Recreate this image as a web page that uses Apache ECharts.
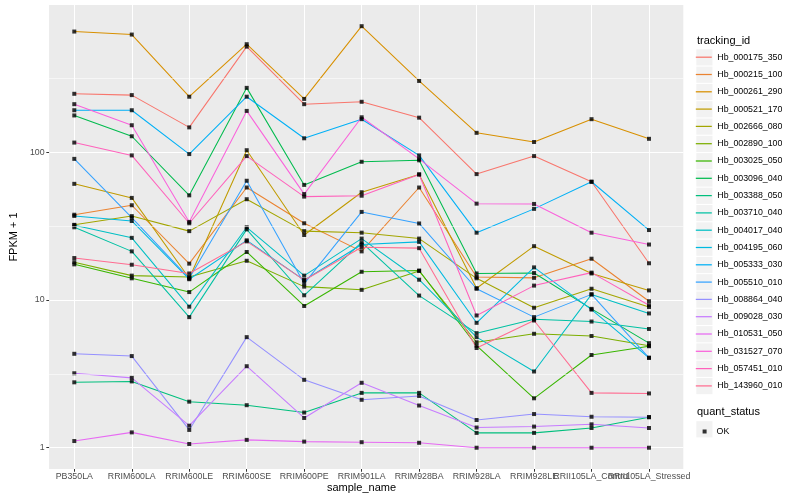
<!DOCTYPE html>
<html><head><meta charset="utf-8">
<script src="https://cdn.jsdelivr.net/npm/echarts@6/dist/echarts.min.js"></script>
<style>html,body{margin:0;padding:0;background:#fff}#c{width:800px;height:500px}</style>
</head><body><div id="c"></div>
<script>
const categories = ['PB350LA','RRIM600LA','RRIM600LE','RRIM600SE','RRIM600PE','RRIM901LA','RRIM928BA','RRIM928LA','RRIM928LE','RRII105LA_Control','RRII105LA_Stressed'];
const minorBreaks = [3.162, 31.62, 316.2];
const trackingIds = ['Hb_000175_350','Hb_000215_100','Hb_000261_290','Hb_000521_170','Hb_002666_080','Hb_002890_100','Hb_003025_050','Hb_003096_040','Hb_003388_050','Hb_003710_040','Hb_004017_040','Hb_004195_060','Hb_005333_030','Hb_005510_010','Hb_008864_040','Hb_009028_030','Hb_010531_050','Hb_031527_070','Hb_057451_010','Hb_143960_010'];
const palette = ['#F8766D','#EA8331','#D89000','#C09B00','#A3A500','#7CAE00','#39B600','#00BB4E','#00BF7D','#00C1A3','#00BFC4','#00BAE0','#00B0F6','#35A2FF','#9590FF','#C77CFF','#E76BF3','#FA62DB','#FF62BC','#FF6C91'];

// FPKM + 1 per sample
const Hb_000175_350 = [248, 243, 147, 517, 211, 219, 171, 71, 94, 63, 17.7];
const Hb_000215_100 = [37.7, 43.7, 17.6, 57.6, 33, 21.3, 57.6, 14.3, 14.1, 19.0, 9.8];
const Hb_000261_290 = [654, 624, 237, 537, 229, 711, 303, 135, 117, 167, 123];
const Hb_000521_170 = [61, 49, 14, 103, 27.5, 53.5, 70.6, 12.0, 23.1, 15.1, 11.6];
const Hb_002666_080 = [32.2, 36.9, 29.2, 48, 29.2, 28.5, 26, 14.0, 8.85, 11.9, 8.95];
const Hb_002890_100 = [18.0, 14.6, 14.3, 18.4, 12.3, 11.7, 15.7, 5.17, 5.9, 5.7, 4.9];
const Hb_003025_050 = [17.4, 14.0, 11.3, 21.1, 9.1, 15.5, 15.8, 4.9, 2.16, 4.24, 4.86];
const Hb_003096_040 = [177, 128, 51, 272, 60, 86, 88, 15.1, 15.2, 8.7, 5.1];
const Hb_003388_050 = [2.77, 2.81, 2.05, 1.94, 1.73, 2.35, 2.35, 1.26, 1.26, 1.36, 1.61];
const Hb_003710_040 = [31, 21.3, 7.65, 30, 10.75, 24.5, 10.7, 5.96, 7.4, 7.14, 6.36];
const Hb_004017_040 = [32, 26.3, 9.0, 31, 14.6, 26, 13.7, 5.6, 3.28, 10.9, 8.1];
const Hb_004195_060 = [37, 34.2, 13.8, 25.3, 13.6, 23.7, 24.7, 7.0, 16.6, 8.6, 4.06];
const Hb_005333_030 = [192, 192, 97, 237, 124, 167, 95, 28.5, 41.3, 63, 29.7];
const Hb_005510_010 = [90, 36, 14, 64, 12.9, 39.4, 32.9, 11.9, 7.65, 10.9, 4.06];
const Hb_008864_040 = [4.32, 4.17, 1.32, 5.6, 2.88, 2.11, 2.24, 1.54, 1.69, 1.62, 1.61];
const Hb_009028_030 = [3.19, 2.97, 1.41, 3.56, 1.59, 2.75, 1.93, 1.37, 1.39, 1.44, 1.36];
const Hb_010531_050 = [1.11, 1.27, 1.06, 1.13, 1.10, 1.09, 1.08, 1.0, 1.0, 1.0, 1.0];
const Hb_031527_070 = [211, 152, 33.7, 190, 52, 172, 90, 44.8, 44.6, 28.5, 23.7];
const Hb_057451_010 = [116, 95, 33, 94, 50, 50.7, 70.6, 7.85, 12.5, 15.3, 9.2];
const Hb_143960_010 = [19.2, 17.3, 15.1, 24.9, 13.6, 22.7, 22.4, 4.73, 7.26, 2.35, 2.33];

const seriesValues = [Hb_000175_350, Hb_000215_100, Hb_000261_290, Hb_000521_170, Hb_002666_080, Hb_002890_100, Hb_003025_050, Hb_003096_040, Hb_003388_050, Hb_003710_040, Hb_004017_040, Hb_004195_060, Hb_005333_030, Hb_005510_010, Hb_008864_040, Hb_009028_030, Hb_010531_050, Hb_031527_070, Hb_057451_010, Hb_143960_010];

const FONT = 'Liberation Sans, Arial, Helvetica, sans-serif';
const Y_MIN = 0.718, Y_MAX = 989;
const LEG_TOP = 48.7, LEG_STEP = 17.3;

const lineSeries = trackingIds.map((id, i) => ({
  name: id, type: 'line', xAxisIndex: 1, yAxisIndex: 1,
  data: seriesValues[i], symbol: 'none', z: 2,
  itemStyle: {color: palette[i]},
  lineStyle: {color: palette[i], width: 1.05},
  emphasis: {disabled: true}, animation: false
}));
const okPoints = [];
seriesValues.forEach(arr => arr.forEach((v, j) => okPoints.push([j, v])));

const keyBoxes = trackingIds.map((id, i) => ({
  type: 'rect', shape: {x: 696.3, y: LEG_TOP + i * LEG_STEP + 0.6, width: 16.2, height: 16.2},
  style: {fill: '#F2F2F2'}, z: 0, silent: true
}));

const chart = echarts.init(document.getElementById('c'), null, {renderer: 'canvas'});
chart.setOption({
  animation: false,
  backgroundColor: '#FFFFFF',
  textStyle: {fontFamily: FONT},
  grid: [
    {left: 39.8, right: 116.7, top: 5, bottom: 31, show: true, backgroundColor: '#EBEBEB', borderWidth: 0},
    {left: 74.3, right: 151, top: 5, bottom: 31, show: false}
  ],
  xAxis: [
    {gridIndex: 0, type: 'value', min: 0, max: 1, show: false},
    {gridIndex: 1, type: 'category', data: categories, boundaryGap: false,
     axisLine: {show: false},
     axisTick: {show: true, length: 2.75, lineStyle: {color: '#333333', width: 1.05}},
     axisLabel: {interval: 0, hideOverlap: false, margin: 3.5, fontSize: 8.8, color: '#4D4D4D', fontFamily: FONT},
     splitLine: {show: true, lineStyle: {color: '#FFFFFF', width: 1.05}}}
  ],
  yAxis: [
    {gridIndex: 0, type: 'log', logBase: 10, min: Y_MIN, max: Y_MAX,
     name: 'FPKM + 1', nameLocation: 'middle', nameGap: 24, nameRotate: 90,
     nameTextStyle: {fontSize: 11, color: '#000000', fontFamily: FONT},
     axisLine: {show: false},
     axisTick: {show: true, length: 2.75, lineStyle: {color: '#333333', width: 1.05}},
     axisLabel: {margin: 4.5, fontSize: 8.8, color: '#4D4D4D', fontFamily: FONT, showMinLabel: false, showMaxLabel: false},
     splitLine: {show: true, showMinLine: false, showMaxLine: false, lineStyle: {color: '#FFFFFF', width: 1.05}}},
    {gridIndex: 1, type: 'log', logBase: 10, min: Y_MIN, max: Y_MAX, show: false, splitLine: {show: false}}
  ],
  legend: [
    {data: trackingIds, orient: 'vertical', left: 695.8, top: LEG_TOP, padding: 0,
     icon: 'path://M0,0H16V1.25H0Z', itemWidth: 16, itemHeight: 17, itemGap: LEG_STEP - 17, selectedMode: false,
     itemStyle: {borderWidth: 0}, lineStyle: {width: 0},
     textStyle: {fontSize: 8.8, lineHeight: 17, color: '#000000', fontFamily: FONT, padding: [0, 0, 0, 0.5]}},
    {data: [{name: 'OK', icon: 'rect'}], orient: 'vertical', left: 702.6, top: 427, padding: 0,
     itemWidth: 4, itemHeight: 4, selectedMode: false,
     textStyle: {fontSize: 8.8, color: '#000000', fontFamily: FONT, padding: [0, 0, 0, 5]}}
  ],
  graphic: [
    ...keyBoxes,
    {type: 'rect', shape: {x: 696.3, y: 421.2, width: 16.2, height: 16.2}, style: {fill: '#F2F2F2'}, z: 0, silent: true},
    {type: 'text', x: 697, y: 40.5, style: {text: 'tracking_id', fontSize: 11, fill: '#000', fontFamily: FONT, align: 'left', verticalAlign: 'middle'}, silent: true},
    {type: 'text', x: 697, y: 412.3, style: {text: 'quant_status', fontSize: 11, fill: '#000', fontFamily: FONT, align: 'left', verticalAlign: 'middle'}, silent: true},
    {type: 'text', x: 361.5, y: 487.5, style: {text: 'sample_name', fontSize: 11, fill: '#000', fontFamily: FONT, align: 'center', verticalAlign: 'middle'}, silent: true}
  ],
  series: [
    {name: '_minor', type: 'line', xAxisIndex: 0, yAxisIndex: 0, data: [[0, 1]], symbol: 'none', z: 1,
     lineStyle: {opacity: 0}, silent: true,
     markLine: {silent: true, symbol: ['none', 'none'], label: {show: false}, animation: false,
       lineStyle: {color: '#FFFFFF', width: 0.55, type: 'solid'},
       emphasis: {disabled: true},
       data: minorBreaks.map(v => ({yAxis: v}))}},
    ...lineSeries,
    {name: 'OK', type: 'scatter', xAxisIndex: 1, yAxisIndex: 1, data: okPoints, symbol: 'rect', symbolSize: 4,
     itemStyle: {color: '#000000'}, z: 3, emphasis: {disabled: true}}
  ]
});
</script></body></html>
